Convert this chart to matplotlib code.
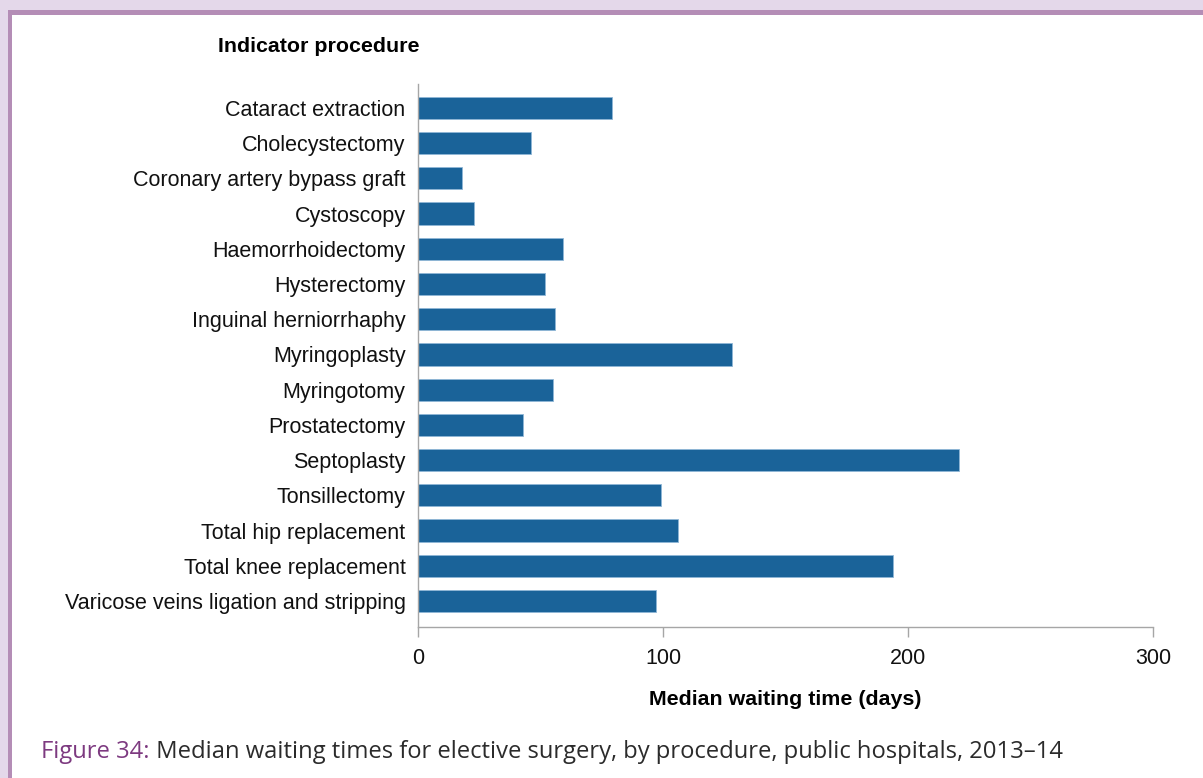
import matplotlib.pyplot as plt
from matplotlib.patches import Rectangle

# Median waiting time in days, public hospitals 2013-14
procedures = [
    "Cataract extraction",
    "Cholecystectomy",
    "Coronary artery bypass graft",
    "Cystoscopy",
    "Haemorrhoidectomy",
    "Hysterectomy",
    "Inguinal herniorrhaphy",
    "Myringoplasty",
    "Myringotomy",
    "Prostatectomy",
    "Septoplasty",
    "Tonsillectomy",
    "Total hip replacement",
    "Total knee replacement",
    "Varicose veins ligation and stripping",
]
median_days = [79, 46, 18, 23, 59, 52, 56, 128, 55, 43, 221, 99, 106, 194, 97]
x_ticks = [0, 100, 200, 300]

bar_color = "#1a6399"
spine_color = "#a6a6a6"
frame_light = "#e4d8ea"
frame_dark = "#b48db6"

fig = plt.figure(figsize=(12.03, 7.78), dpi=100)
fig.patch.set_facecolor("white")

# lavender frame around the figure panel
fig.patches.append(Rectangle((0, 1 - 10 / 778), 1, 10 / 778, transform=fig.transFigure,
                             facecolor=frame_light, edgecolor="none", zorder=0))
fig.patches.append(Rectangle((0, 0), 8 / 1203, 1, transform=fig.transFigure,
                             facecolor=frame_light, edgecolor="none", zorder=0))
fig.patches.append(Rectangle((8 / 1203, 1 - 15 / 778), 1, 5 / 778, transform=fig.transFigure,
                             facecolor=frame_dark, edgecolor="none", zorder=1))
fig.patches.append(Rectangle((8 / 1203, 0), 4 / 1203, 1 - 10 / 778, transform=fig.transFigure,
                             facecolor=frame_dark, edgecolor="none", zorder=1))

ax = fig.add_axes([418 / 1203, 1 - 627 / 778, 735 / 1203, 543 / 778])
positions = list(range(len(procedures)))
ax.barh(positions, median_days, height=0.63, color=bar_color,
        edgecolor="#8fb6d6", linewidth=0.6)

ax.set_ylim(len(procedures) - 1 + 0.74, -0.68)
ax.set_xlim(0, 300)
ax.set_yticks(positions)
ax.set_yticklabels(procedures, fontsize=15.5, family="Liberation Sans", color="#111111")
ax.set_xticks(x_ticks)
ax.set_xticklabels([str(t) for t in x_ticks], fontsize=15.5, family="Liberation Sans",
                   color="#111111")
ax.tick_params(axis="y", length=0, pad=9)
ax.tick_params(axis="x", length=7, width=1, color=spine_color, pad=8)

for side in ["top", "right"]:
    ax.spines[side].set_visible(False)
for side in ["left", "bottom"]:
    ax.spines[side].set_color(spine_color)
    ax.spines[side].set_linewidth(1)

ax.set_xlabel("Median waiting time (days)", fontsize=15.4, fontweight="bold",
              family="Liberation Sans", labelpad=15)

fig.text(419 / 1203, 1 - 47 / 778, "Indicator procedure", ha="right", va="center",
         fontsize=15.4, fontweight="bold", family="Liberation Sans")

# caption below the chart
cap_y = 1 - 752 / 778
t = fig.text(41 / 1203, cap_y, "Figure 34:", ha="left", va="center",
             fontsize=17.1, family="Open Sans", color="#7d3a80")
fig.canvas.draw()
bb = t.get_window_extent()
fig.text(bb.x1 / 1203, cap_y,
         " Median waiting times for elective surgery, by procedure, public hospitals, 2013\u201314",
         ha="left", va="center", fontsize=17.1, family="Open Sans", color="#2b2b2b")

fig.savefig("out.png", dpi=100)
